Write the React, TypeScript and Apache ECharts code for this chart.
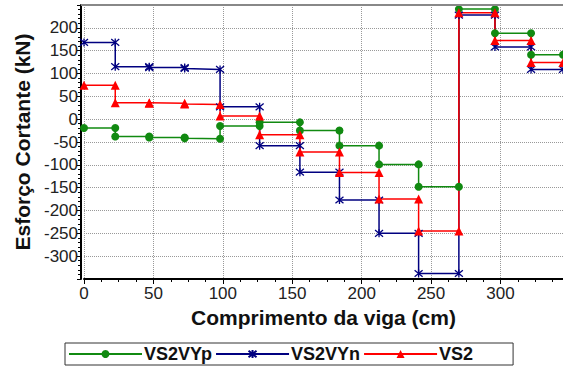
import React, { useEffect, useRef } from "react";
import * as echarts from "echarts";

// Stations along the beam (cm)
const stations = [0, 22.5, 47, 72.5, 98, 126.5, 155.5, 184, 212.5, 241, 270, 296, 322, 345];

// Shear value leaving each station (start of the segment to its right), kN
const vypLeave = [-19.5, -38, -40, -42, -15, -7, -25, -58, -99, -148, 241, 188, 141];
// Shear value arriving at each station (end of the segment to its left), kN
const vypArrive = [-19.5, -38, -40, -43, -15, -7, -25, -58, -99, -148, 241, 188, 141];

const vynLeave = [168, 115, 113, 111, 27, -58, -116, -177, -250, -338, 228, 158, 109];
const vynArrive = [168, 115, 113, 109, 27, -58, -116, -177, -250, -338, 228, 158, 109];

const vs2Leave = [74, 36, 35, 33, 7, -34, -72, -117, -175, -245, 233, 172, 124];
const vs2Arrive = [74, 36, 35, 32, 7, -34, -72, -117, -175, -245, 233, 172, 124];

const seriesNames = ["VS2VYp", "VS2VYn", "VS2"];
const xTicks = [0, 50, 100, 150, 200, 250, 300];
const yTicks = [-300, -250, -200, -150, -100, -50, 0, 50, 100, 150, 200];

function stepPoints(leave: number[], arrive: number[]): number[][] {
  const pts: number[][] = [];
  for (let i = 0; i < stations.length; i++) {
    const x = stations[i];
    if (i > 0) pts.push([x, arrive[i - 1]]);
    if (i < stations.length - 1) {
      if (!(i > 0 && arrive[i - 1] === leave[i])) pts.push([x, leave[i]]);
    }
  }
  return pts;
}

const FONT = "'Liberation Sans', Arial, sans-serif";
const STAR = "path://M0,0L10,10M10,0L0,10M5,-1L5,11";

export default function App() {
  const ref = useRef<HTMLDivElement>(null);
  useEffect(() => {
    if (!ref.current) return;
    const chart = echarts.init(ref.current, null, { renderer: "svg" });
    const colors = ["#118a11", "#000080", "#ff0000"];
    chart.setOption({
      animation: false,
      backgroundColor: "#ffffff",
      grid: { left: 84, right: 0, top: 5, bottom: 95, containLabel: false },
      xAxis: {
        type: "value",
        min: 0,
        max: 345,
        interval: 50,
        name: "Comprimento da viga (cm)",
        nameLocation: "middle",
        nameGap: 26,
        nameTextStyle: { fontFamily: FONT, fontSize: 21, fontWeight: "bold", color: "#111" },
        axisLine: { show: true, onZero: false, lineStyle: { color: "#000", width: 2 } },
        axisTick: { show: true, length: 5, lineStyle: { color: "#000" } },
        minorTick: { show: true, splitNumber: 4, length: 3, lineStyle: { color: "#000" } },
        axisLabel: {
          fontFamily: FONT,
          fontSize: 17,
          color: "#222",
          margin: 6,
          showMaxLabel: false,
          formatter: (v: number) => (xTicks.includes(v) ? String(v) : ""),
        },
        splitLine: { show: true, lineStyle: { color: "#999", type: "dotted", width: 1 } },
      },
      yAxis: {
        type: "value",
        min: -350,
        max: 250,
        interval: 50,
        offset: 3,
        name: "Esforço Cortante (kN)",
        nameLocation: "middle",
        nameGap: 46,
        nameTextStyle: { fontFamily: FONT, fontSize: 21, fontWeight: "bold", color: "#111" },
        axisLine: { show: true, onZero: false, lineStyle: { color: "#000", width: 2 } },
        axisTick: { show: true, length: 4, lineStyle: { color: "#000" } },
        minorTick: { show: true, splitNumber: 5, length: 3, lineStyle: { color: "#000" } },
        axisLabel: {
          fontFamily: FONT,
          fontSize: 17,
          color: "#222",
          margin: 3,
          showMinLabel: false,
          showMaxLabel: false,
          formatter: (v: number) => (yTicks.includes(v) ? String(v) : ""),
        },
        splitLine: { show: true, lineStyle: { color: "#999", type: "dotted", width: 1 } },
      },
      legend: {
        show: true,
        left: 65,
        top: 343,
        orient: "horizontal",
        padding: [2, 40, 2, 3],
        itemGap: 3,
        itemWidth: 73,
        itemHeight: 10,
        borderColor: "#333",
        borderWidth: 1,
        borderRadius: 0,
        textStyle: { fontFamily: FONT, fontSize: 18, fontWeight: "bold", color: "#111", padding: [0, 0, 0, -3] },
        data: seriesNames,
      },
      graphic: [
        {
          type: "line",
          shape: { x1: 81, y1: 5, x2: 563, y2: 5 },
          style: { stroke: "#888", lineWidth: 2 },
          z: 10,
        },
      ],
      series: [
        {
          name: seriesNames[0],
          type: "line",
          data: stepPoints(vypLeave, vypArrive),
          symbol: "circle",
          symbolSize: 8,
          showAllSymbol: true,
          clip: true,
          lineStyle: { color: colors[0], width: 1.5 },
          itemStyle: { color: colors[0] },
        },
        {
          name: seriesNames[1],
          type: "line",
          data: stepPoints(vynLeave, vynArrive),
          symbol: STAR,
          symbolSize: 8,
          showAllSymbol: true,
          clip: true,
          lineStyle: { color: colors[1], width: 1.5 },
          itemStyle: { color: colors[1], borderColor: colors[1], borderWidth: 1.3 },
        },
        {
          name: seriesNames[2],
          type: "line",
          data: stepPoints(vs2Leave, vs2Arrive),
          symbol: "triangle",
          symbolSize: 9,
          showAllSymbol: true,
          clip: true,
          lineStyle: { color: colors[2], width: 1.5 },
          itemStyle: { color: colors[2] },
        },
      ],
    });
    return () => chart.dispose();
  }, []);
  return (
    <div
      ref={ref}
      style={{ position: "fixed", left: 0, top: 0, width: 563, height: 374 }}
    />
  );
}
